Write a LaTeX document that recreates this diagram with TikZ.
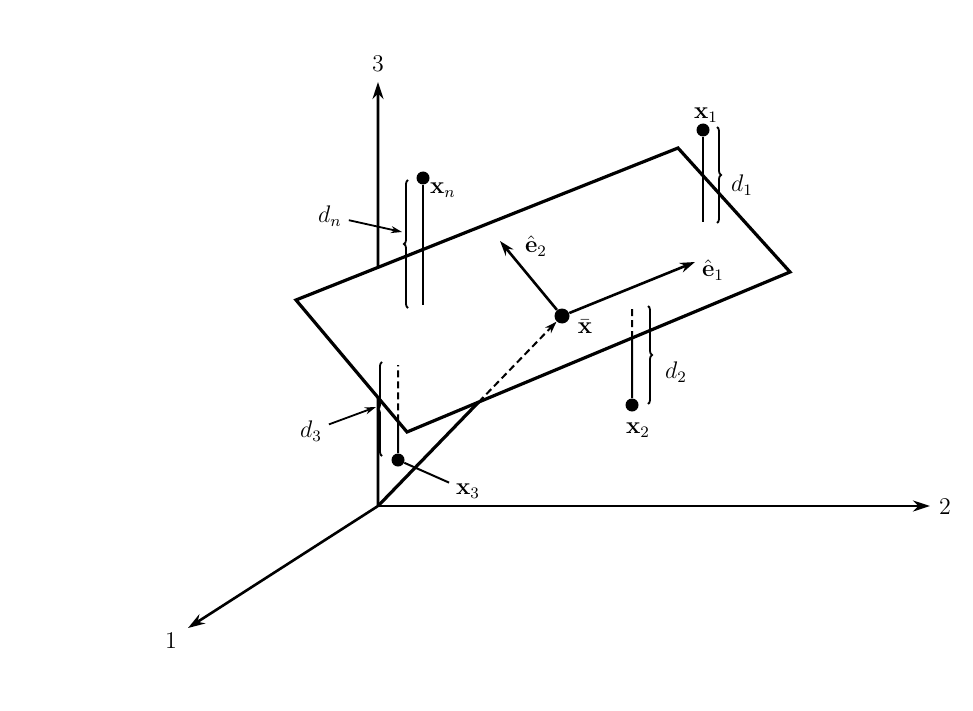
\documentclass[tikz,border=0pt]{standalone}
\usetikzlibrary{arrows.meta, decorations.pathreplacing, calc}

\begin{document}
\begin{tikzpicture}[
    x=0.5pt, y=-0.5pt,
    scale=2,
    transform shape,
    font=\large,
    axis/.style={line width=2.6pt},
    axisarrow/.style={line width=2.6pt, -{Stealth[length=17pt, width=11pt]}},
    edge/.style={line width=3.2pt, line join=miter},
    stem/.style={line width=2pt},
    hidden/.style={line width=2pt, dash pattern=on 7pt off 4pt},
    dot/.style={circle, fill, inner sep=0pt, minimum size=6.5pt},
    bigdot/.style={circle, fill, inner sep=0pt, minimum size=7.5pt},
    bracket/.style={decorate, decoration={brace, amplitude=4pt}, line width=1.8pt},
    pointer/.style={line width=1.8pt, -{Stealth[length=11pt, width=7pt]}},
    unit/.style={line width=2.6pt, -{Stealth[length=15pt, width=10pt]}}
]
    \useasboundingbox (0,0) rectangle (973,711);

    % Plane corners and axes
    \coordinate (pL) at (296,300);
    \coordinate (pT) at (678,148);
    \coordinate (pR) at (790,272);
    \coordinate (pB) at (407,432);
    \coordinate (O) at (378,506);
    \coordinate (a1) at (188,628);
    \coordinate (a2) at (930,506);
    \coordinate (a3) at (378,82);
    \coordinate (xbarpos) at (562,316);

    \node (l1) at (171,641) {1};
    \node (l2) at (945,507) {2};
    \node (l3) at (378,64) {3};

    \draw[axisarrow] (O) -- (a1);
    \draw[axisarrow] (O) -- (a2);
    \draw[axis] (O) -- (intersection of O--a3 and pL--pB);
    \draw[axisarrow] (intersection of O--a3 and pL--pT) -- (a3);

    % Plane
    \draw[edge] (pL) -- (pT) -- (pR) -- (pB) -- cycle;

    % Mean point and unit vectors
    \node[bigdot] (xbar) at (xbarpos) {};
    \node (xbarlbl) at (585,327) {$\bar{\mathbf{x}}$};
    \coordinate (pv) at (intersection of O--xbarpos and pB--pR);
    \draw[edge] (O) -- (pv);
    \draw[hidden, -{Stealth[length=12pt, width=8pt]}] (pv) -- (xbar);

    \coordinate (e1end) at (695,262);
    \coordinate (e2end) at (500,241);
    \draw[unit] (xbar) -- (e1end);
    \draw[unit] (xbar) -- (e2end);
    \node (e1lbl) at (713,270) {$\hat{\mathbf{e}}_1$};
    \node (e2lbl) at (536,246) {$\hat{\mathbf{e}}_2$};

    % Point x_n
    \node[dot] (xn) at (423,178) {};
    \node (xnlbl) at (443,190) {$\mathbf{x}_n$};
    \coordinate (xnfoot) at (423,305);
    \draw[stem] (xn) -- (xnfoot);
    \draw[bracket] (408,308) -- (408,180);
    \coordinate (dntip) at (402,232);
    \node (dn) at (330,216) {$d_n$};
    \draw[pointer] (dn) -- (dntip);

    % Point x_1
    \node[dot] (x1) at (703,130) {};
    \node (x1lbl) at (706,115) {$\mathbf{x}_1$};
    \coordinate (x1foot) at (703,222);
    \draw[stem] (x1) -- (x1foot);
    \draw[bracket] (717,127) -- (717,223);
    \node (d1) at (742,185) {$d_1$};

    % Point x_2
    \node[dot] (x2) at (632,405) {};
    \node (x2lbl) at (638,430) {$\mathbf{x}_2$};
    \coordinate (x2top) at (632,307);
    \coordinate (x2mid) at (intersection of x2--x2top and pB--pR);
    \draw[stem] (x2) -- (x2mid);
    \draw[hidden] (x2mid) -- (x2top);
    \draw[bracket] (648,306) -- (648,404);
    \node (d2) at (676,372) {$d_2$};

    % Point x_3
    \node[dot] (x3) at (398,460) {};
    \node (x3lbl) at (468,491) {$\mathbf{x}_3$};
    \coordinate (x3top) at (398,365);
    \coordinate (x3mid) at (intersection of x3--x3top and pL--pB);
    \draw[stem] (x3) -- (x3mid);
    \draw[hidden] (x3mid) -- (x3top);
    \draw[stem] (x3lbl) -- (x3);
    \draw[bracket] (382,456) -- (382,362);
    \coordinate (d3tip) at (376,407);
    \node (d3) at (311,431) {$d_3$};
    \draw[pointer] (d3) -- (d3tip);
\end{tikzpicture}
\end{document}
